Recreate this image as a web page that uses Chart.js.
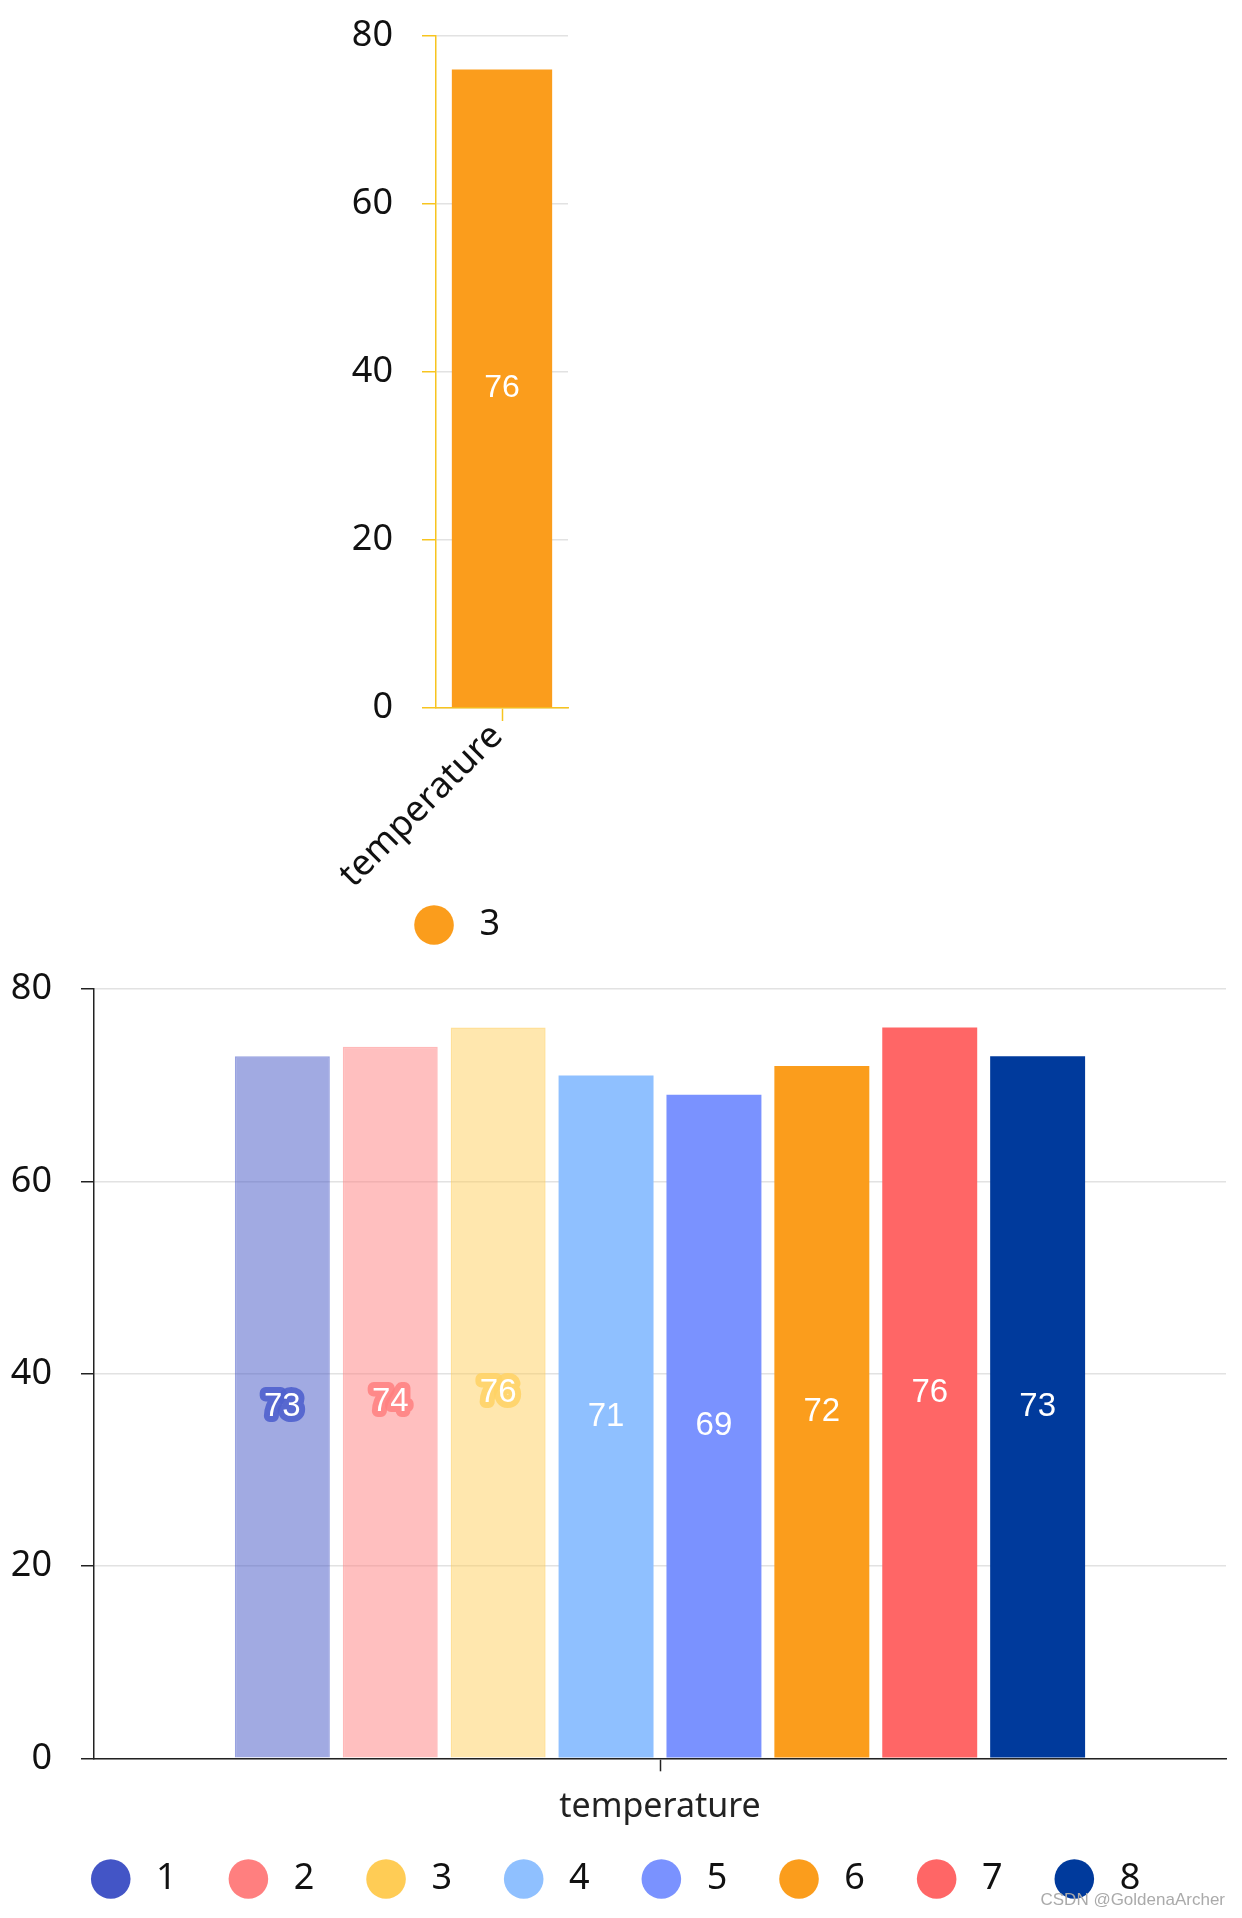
<!DOCTYPE html>
<html>
<head>
<meta charset="utf-8">
<script src="https://cdn.jsdelivr.net/npm/chart.js@4.4.1/dist/chart.umd.min.js"></script>
<style>
  html, body { margin: 0; padding: 0; background: #fff; }
  body { position: relative; width: 1242px; height: 1918px; overflow: hidden; }
  #topCanvas { position: absolute; left: 320px; top: 0; }
  #bottomCanvas { position: absolute; left: 0; top: 950px; }
  #mark { position: absolute; right: 17px; top: 1890px; font: 17px "Liberation Sans", Arial, sans-serif; color: #aaa; }
</style>
</head>
<body>
<canvas id="topCanvas" width="276" height="960"></canvas>
<canvas id="bottomCanvas" width="1242" height="957"></canvas>
<div id="mark">CSDN @GoldenaArcher</div>
<script>
const categories = ["temperature"];
const seriesNames = ["1", "2", "3", "4", "5", "6", "7", "8"];
const values = [73, 74, 76, 71, 69, 72, 76, 73];
const topSeries = "3";
const topValues = [76];
const yMin = 0, yMax = 80, yStep = 20;

const baseColors = ["#4355c6", "#ff7f7f", "#ffcc55", "#8fc0ff", "#7a92ff", "#fb9d1c", "#ff6666", "#003a9c"];
const barFills = ["rgba(67,85,198,0.5)", "rgba(255,127,127,0.5)", "rgba(255,204,85,0.48)",
  "#8fc0ff", "#7a92ff", "#fb9d1c", "#ff6666", "#003a9c"];
const barBorders = ["rgba(67,85,198,0.55)", "rgba(255,127,127,0.55)", "rgba(255,204,85,0.6)",
  "#8fc0ff", "#7a92ff", "#fb9d1c", "#ff6666", "#003a9c"];
const haloColors = ["rgba(80,98,206,0.9)", "rgba(255,128,128,0.85)", "rgba(255,210,100,0.85)", null, null, null, null, null];
const fontFamily = "'Noto Sans', 'DejaVu Sans', sans-serif";
const axisYellow = "#f7c41f";

// value label in the middle of each bar
const barValueLabels = {
  id: "barValueLabels",
  afterDatasetsDraw(chart, args, opts) {
    const ctx = chart.ctx;
    ctx.save();
    ctx.font = opts.size + "px 'Liberation Sans', Arial, sans-serif";
    ctx.textAlign = "center";
    ctx.textBaseline = "middle";
    ctx.lineJoin = "round";
    chart.data.datasets.forEach((ds, i) => {
      const meta = chart.getDatasetMeta(i);
      meta.data.forEach((bar, j) => {
        const txt = String(ds.data[j]);
        const y = (bar.y + bar.base) / 2;
        const halo = opts.halos ? opts.halos[i] : null;
        if (halo) {
          ctx.strokeStyle = halo;
          ctx.lineWidth = 12;
          ctx.strokeText(txt, bar.x, y);
        }
        ctx.fillStyle = "#fff";
        ctx.fillText(txt, bar.x, y);
      });
    });
    ctx.restore();
  }
};

function legendLabels(colors) {
  return function (chart) {
    const items = Chart.defaults.plugins.legend.labels.generateLabels(chart);
    items.forEach((it, k) => {
      it.text = " " + it.text;
      it.fillStyle = colors[k];
      it.strokeStyle = colors[k];
      it.lineWidth = 0;
    });
    return items;
  };
}

function noPad(s) {
  s.paddingTop = 0; s.paddingBottom = 0; s.paddingLeft = 0; s.paddingRight = 0;
}

// top chart: single series
new Chart(document.getElementById("topCanvas"), {
  type: "bar",
  data: {
    labels: categories,
    datasets: [{
      label: topSeries,
      data: topValues,
      backgroundColor: "#fb9d1c",
      borderWidth: 0
    }]
  },
  options: {
    responsive: false,
    animation: false,
    layout: { padding: { top: 36, right: 28, bottom: 7, left: 28 } },
    datasets: { bar: { categoryPercentage: 0.76, barPercentage: 1 } },
    scales: {
      x: {
        grid: { drawOnChartArea: false, offset: false, tickLength: 13, tickColor: axisYellow, tickWidth: 1.5 },
        border: { color: axisYellow, width: 1.5 },
        ticks: { font: { size: 36, family: fontFamily }, color: "#111", minRotation: 45, maxRotation: 45, padding: -6, labelOffset: -5 },
        afterFit(s) { s.height = 189; noPad(s); }
      },
      y: {
        min: yMin, max: yMax,
        ticks: { stepSize: yStep, font: { size: 36, family: fontFamily }, color: "#111", padding: 29 },
        grid: { color: "#e2e2e2", lineWidth: 1.5, tickLength: 14, tickColor: axisYellow, tickWidth: 1.5 },
        border: { color: axisYellow, width: 1.5 },
        afterFit(s) { s.width = 88; noPad(s); }
      }
    },
    plugins: {
      legend: {
        position: "bottom",
        labels: {
          usePointStyle: true, pointStyle: "circle", boxHeight: 28,
          font: { size: 36, family: fontFamily }, color: "#111", padding: 10,
          generateLabels: legendLabels(["#fb9d1c"])
        }
      },
      tooltip: { enabled: false },
      barValueLabels: { size: 32, halos: null }
    }
  },
  plugins: [barValueLabels]
});

// bottom chart: eight series
new Chart(document.getElementById("bottomCanvas"), {
  type: "bar",
  data: {
    labels: categories,
    datasets: seriesNames.map((name, i) => ({
      label: name,
      data: [values[i]],
      backgroundColor: barFills[i],
      borderColor: barBorders[i],
      borderWidth: i < 3 ? 1.5 : 0
    }))
  },
  options: {
    responsive: false,
    animation: false,
    layout: { padding: { top: 39, right: 16, bottom: 0, left: 7 } },
    datasets: { bar: { categoryPercentage: 0.7625, barPercentage: 0.88 } },
    scales: {
      x: {
        grid: { drawOnChartArea: false, offset: false, tickLength: 13, tickColor: "#222", tickWidth: 1.5 },
        border: { color: "#222", width: 1.5 },
        ticks: { font: { size: 34, family: fontFamily }, color: "#222", padding: 16 },
        afterFit(s) {
          s.height = 49;
          noPad(s);
          // the legend box sits right under this short axis; let the label spill past it
          s._computeLabelArea = () => undefined;
        }
      },
      y: {
        min: yMin, max: yMax,
        ticks: { stepSize: yStep, font: { size: 36, family: fontFamily }, color: "#111", padding: 29 },
        grid: { color: "#e2e2e2", lineWidth: 1.5, tickLength: 13, tickColor: "#222", tickWidth: 1.5 },
        border: { color: "#222", width: 1.5 },
        afterFit(s) { s.width = 87; noPad(s); }
      }
    },
    plugins: {
      legend: {
        position: "bottom",
        labels: {
          usePointStyle: true, pointStyle: "circle", boxHeight: 28,
          font: { size: 36, family: fontFamily }, color: "#111", padding: 53.7,
          generateLabels: legendLabels(baseColors)
        }
      },
      tooltip: { enabled: false },
      barValueLabels: { size: 33, halos: haloColors }
    }
  },
  plugins: [barValueLabels]
});
</script>
</body>
</html>
